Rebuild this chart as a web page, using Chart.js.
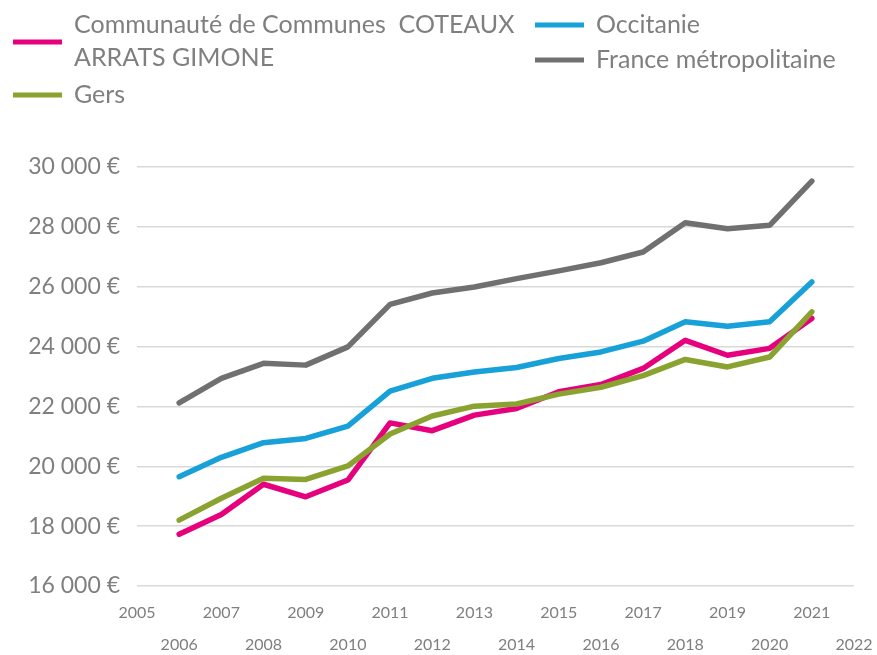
<!DOCTYPE html>
<html lang="fr">
<head>
<meta charset="utf-8">
<title>Revenu médian</title>
<script src="https://cdn.jsdelivr.net/npm/chart.js@4/dist/chart.umd.min.js"></script>
<style>
  html, body { margin: 0; padding: 0; background: #fff; }
  #wrap { width: 877px; height: 655px; }
</style>
</head>
<body>
<div id="wrap"><canvas id="chart" width="877" height="655"></canvas></div>
<script>
// ===== données =====
const years = [2006, 2007, 2008, 2009, 2010, 2011, 2012, 2013, 2014, 2015, 2016, 2017, 2018, 2019, 2020, 2021];
const xTickYears = [2005, 2006, 2007, 2008, 2009, 2010, 2011, 2012, 2013, 2014, 2015, 2016, 2017, 2018, 2019, 2020, 2021, 2022];
const yTicks = [16000, 18000, 20000, 22000, 24000, 26000, 28000, 30000];

const seriesNames = [
  "Communauté de Communes  COTEAUX ARRATS GIMONE",
  "Gers",
  "Occitanie",
  "France métropolitaine",
];
const ccCoteaux   = [17730, 18390, 19400, 18980, 19540, 21450, 21190, 21710, 21930, 22490, 22730, 23270, 24210, 23710, 23940, 24940];
const gers        = [18200, 18930, 19600, 19560, 20010, 21080, 21680, 22010, 22080, 22410, 22640, 23030, 23570, 23320, 23650, 25160];
const occitanie   = [19650, 20300, 20790, 20930, 21340, 22510, 22940, 23150, 23300, 23600, 23820, 24180, 24830, 24680, 24830, 26160];
const franceMetro = [22120, 22940, 23440, 23380, 23990, 25410, 25790, 25990, 26270, 26530, 26800, 27160, 28140, 27940, 28050, 29530];
const seriesColors = ["#E6007E", "#8AA22F", "#18A1D8", "#707070"];

const TEXT = "#7F7F7F";
const FONT = "Lato, 'Open Sans', sans-serif";

function formatEuro(v) {
  const s = String(Math.round(v)).replace(/\B(?=(\d{3})+(?!\d))/g, " ");
  return s + " €";
}

// légende dessinée à la main (disposition sur deux colonnes comme l'original)
const legendSlots = [
  { lineY: 42, textX: 74, textY: 25, sampleX: 13, maxWidth: 460 },
  { lineY: 95, textX: 74, textY: 95, sampleX: 13, maxWidth: 460 },
  { lineY: 25, textX: 596, textY: 25, sampleX: 535, maxWidth: 280 },
  { lineY: 60, textX: 596, textY: 60, sampleX: 535, maxWidth: 280 },
];

function wrapWords(ctx, text, maxWidth) {
  const words = text.split(" ");
  const lines = [];
  let cur = "";
  words.forEach(w => {
    const test = cur === "" ? w : cur + " " + w;
    if (ctx.measureText(test).width > maxWidth && cur.trim() !== "") {
      lines.push(cur.trim());
      cur = w;
    } else {
      cur = test;
    }
  });
  if (cur) lines.push(cur.trim());
  return lines;
}

const customLegend = {
  id: "customLegend",
  afterDraw(chart) {
    const ctx = chart.ctx;
    ctx.save();
    ctx.font = "25px " + FONT;
    ctx.textBaseline = "middle";
    ctx.textAlign = "left";
    chart.data.datasets.forEach((ds, i) => {
      const slot = legendSlots[i];
      ctx.strokeStyle = ds.borderColor;
      ctx.lineWidth = 5;
      ctx.lineCap = "butt";
      ctx.beginPath();
      ctx.moveTo(slot.sampleX, slot.lineY);
      ctx.lineTo(slot.sampleX + 49, slot.lineY);
      ctx.stroke();
      ctx.fillStyle = TEXT;
      const lines = wrapWords(ctx, ds.label, slot.maxWidth);
      lines.forEach((ln, k) => ctx.fillText(ln, slot.textX, slot.textY + k * 33));
    });
    ctx.restore();
  },
};

const seriesData = [ccCoteaux, gers, occitanie, franceMetro];

new Chart(document.getElementById("chart"), {
  type: "line",
  data: {
    datasets: seriesData.map((arr, i) => ({
      label: seriesNames[i],
      data: arr.map((v, k) => ({ x: years[k], y: v })),
      borderColor: seriesColors[i],
      backgroundColor: seriesColors[i],
      borderWidth: 5.5,
      pointRadius: 0,
      tension: 0,
      fill: false,
      borderCapStyle: "round",
      borderJoinStyle: "round",
      order: seriesData.length - i,
    })),
  },
  options: {
    responsive: false,
    animation: false,
    layout: { padding: { top: 167, right: 23, left: 0, bottom: 0 } },
    plugins: { legend: { display: false }, tooltip: { enabled: false } },
    scales: {
      x: {
        type: "linear",
        min: 2005,
        max: 2022,
        afterBuildTicks: s => { s.ticks = xTickYears.map(v => ({ value: v })); },
        afterFit: s => { s.height = 69; s.paddingLeft = 0; s.paddingRight = 0; },
        grid: { display: false, drawTicks: false },
        border: { display: false },
        ticks: {
          autoSkip: false,
          maxRotation: 0,
          padding: 10,
          color: TEXT,
          font: { family: FONT, size: 16, lineHeight: 2.05 },
          callback: v => (v % 2 === 1 ? String(v) : ["", String(v)]),
        },
      },
      y: {
        min: 16000,
        max: 30000,
        afterBuildTicks: s => { s.ticks = yTicks.map(v => ({ value: v })); },
        afterFit: s => { s.width = 137; s.paddingTop = 0; s.paddingBottom = 0; },
        grid: { color: "#D9D9D9", lineWidth: 1.5, drawTicks: false },
        border: { display: false },
        ticks: {
          padding: 17,
          color: TEXT,
          font: { family: FONT, size: 23 },
          callback: v => formatEuro(v),
        },
      },
    },
  },
  plugins: [customLegend],
});
</script>
</body>
</html>
